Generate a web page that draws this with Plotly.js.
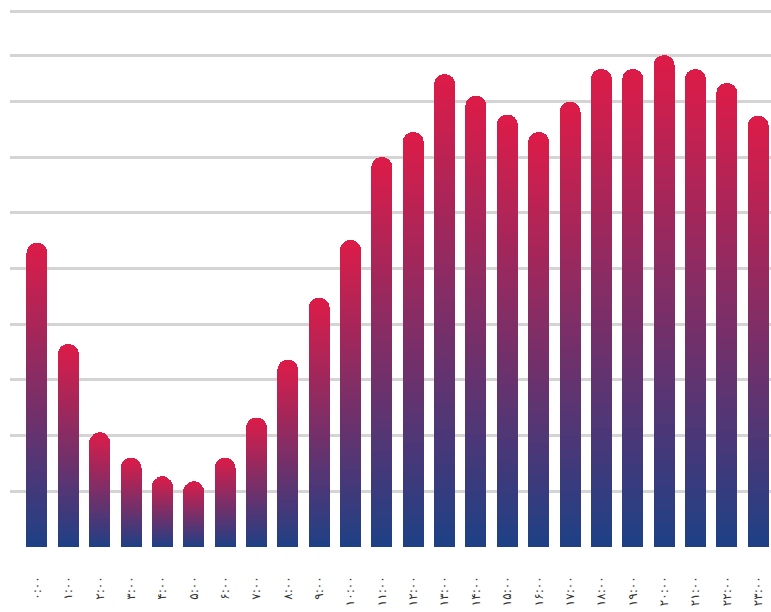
<!DOCTYPE html>
<html>
<head>
<meta charset="utf-8">
<script src="https://cdn.plot.ly/plotly-3.0.1.min.js"></script>
<style>html,body{margin:0;padding:0;background:#fff;}#chart{width:771px;height:612px;}</style>
</head>
<body>
<div id="chart"></div>
<script>
// Hour labels (Persian digits)
const hours = ["۰:۰۰","۱:۰۰","۲:۰۰","۳:۰۰","۴:۰۰","۵:۰۰","۶:۰۰","۷:۰۰","۸:۰۰","۹:۰۰","۱۰:۰۰","۱۱:۰۰",
               "۱۲:۰۰","۱۳:۰۰","۱۴:۰۰","۱۵:۰۰","۱۶:۰۰","۱۷:۰۰","۱۸:۰۰","۱۹:۰۰","۲۰:۰۰","۲۱:۰۰","۲۲:۰۰","۲۳:۰۰"];
// Values (gridline step = 10)
const values = [54.6, 36.4, 20.6, 16.0, 12.7, 11.8, 16.0, 23.2, 33.6, 44.7, 55.1, 70.0,
                74.5, 84.9, 81.0, 77.6, 74.5, 79.9, 85.8, 85.8, 88.3, 85.8, 83.3, 77.4];
// Gridline positions as they appear in the picture
const gridVals = [0, 10, 20, 30, 40, 50, 60, 70, 80, 88.3, 96.2];

const bottomColor = [30, 64, 134];
const topColor = [221, 28, 72];
const N = 40; // gradient slices per bar

function mix(t) {
  const c = bottomColor.map((b, i) => Math.round(b + (topColor[i] - b) * t));
  return `rgb(${c[0]},${c[1]},${c[2]})`;
}

const traces = [];
for (let k = 0; k < N; k++) {
  traces.push({
    type: 'bar',
    x: hours,
    y: values.map(v => v / N),
    marker: { color: mix((k + 0.5) / N), line: { width: 0 } },
    hoverinfo: 'skip',
    showlegend: false
  });
}

const layout = {
  width: 771, height: 612,
  margin: { l: 10, r: 0, t: 5, b: 65 },
  paper_bgcolor: '#ffffff',
  plot_bgcolor: '#ffffff',
  barmode: 'stack',
  bargap: 0.33,
  barcornerradius: 11,
  showlegend: false,
  xaxis: {
    type: 'category',
    range: [-0.86, 23.41],
    tickangle: -90,
    showgrid: false,
    zeroline: false,
    showline: false,
    ticks: '',
    ticklabelstandoff: 26,
    tickfont: { family: 'DejaVu Sans', size: 12, color: '#333' }
  },
  yaxis: {
    range: [0, 97.3],
    tickmode: 'array',
    tickvals: gridVals,
    showticklabels: false,
    showgrid: true,
    gridcolor: '#d4d4d4',
    gridwidth: 3,
    zeroline: false,
    showline: false,
    ticks: ''
  }
};

Plotly.newPlot('chart', traces, layout, { staticPlot: true, displayModeBar: false });
</script>
</body>
</html>
